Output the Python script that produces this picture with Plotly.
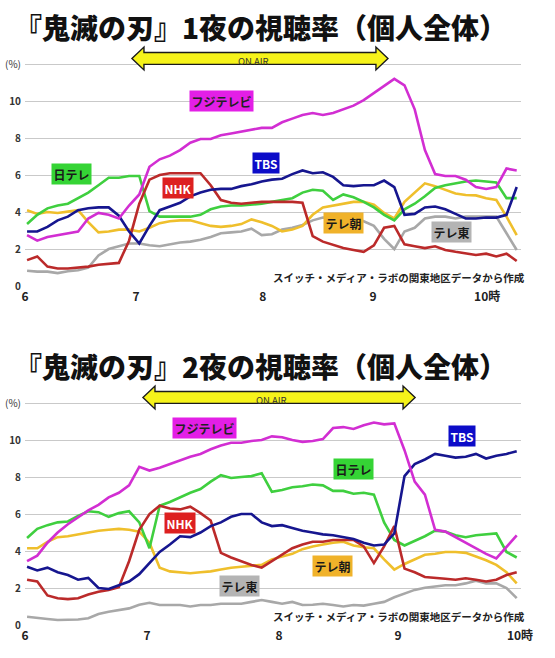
import plotly.graph_objects as go

# time axis: minutes after 18:00, sampled every 5 minutes
minutes = list(range(2, 247, 5))

channels = ["テレ東", "テレ朝", "日テレ", "NHK", "TBS", "フジテレビ"]
line_colors = {"フジテレビ": "#d22ed2", "日テレ": "#3fcf3f", "TBS": "#16168f",
               "NHK": "#bb2a2a", "テレ朝": "#efbf2c", "テレ東": "#a8a8a8"}
box_colors = {"フジテレビ": "#e31fe6", "日テレ": "#35d435", "TBS": "#0c0cc8",
              "NHK": "#dd2020", "テレ朝": "#f0b22a", "テレ東": "#b4b4b4"}
box_text = {"フジテレビ": "#222222", "日テレ": "#1a1a1a", "TBS": "#ffffff",
            "NHK": "#ffffff", "テレ朝": "#1a1a1a", "テレ東": "#1a1a1a"}

# ---- Night 1 ratings (%) ----
fuji1 = [2.8, 2.5, 2.7, 2.8, 2.9, 3.0, 3.7, 4.0, 3.9, 3.7,
         4.4, 5.0, 6.5, 6.9, 7.1, 7.4, 7.8, 8.0, 8.0, 8.2,
         8.3, 8.4, 8.5, 8.6, 8.6, 8.9, 9.1, 9.3, 9.4, 9.3,
         9.4, 9.6, 9.8, 10.1, 10.5, 10.9, 11.25, 10.9, 9.6, 7.4,
         6.1, 6.0, 6.0, 5.8, 5.4, 5.3, 5.4, 6.4, 6.3]
ntv1 = [3.4, 3.9, 4.25, 4.4, 4.5, 4.8, 5.1, 5.5, 5.9, 5.9,
        6.0, 6.0, 4.1, 3.8, 3.8, 3.8, 3.8, 3.9, 4.2, 4.35,
        4.4, 4.4, 4.45, 4.5, 4.6, 4.7, 4.8, 5.1, 5.25, 5.2,
        4.7, 5.0, 4.85, 4.6, 4.3, 3.9, 3.6, 4.2, 4.5, 4.9,
        5.35, 5.5, 5.6, 5.7, 5.75, 5.7, 5.65, 4.8, 4.8]
tbs1 = [3.0, 3.0, 3.25, 3.6, 3.8, 4.15, 4.25, 4.3, 4.3, 3.85,
        3.0, 2.35, 3.3, 4.15, 4.35, 4.55, 4.9, 5.1, 5.25, 5.3,
        5.3, 5.45, 5.55, 5.7, 5.8, 5.85, 6.1, 6.3, 6.15, 6.2,
        5.95, 5.5, 5.45, 5.5, 5.5, 5.75, 5.4, 3.9, 3.95, 4.3,
        4.35, 4.2, 3.95, 3.7, 3.7, 3.75, 3.75, 3.9, 5.4]
nhk1 = [1.45, 1.65, 1.1, 1.0, 1.0, 1.05, 1.1, 1.2, 1.25, 1.3,
        2.5, 4.5, 5.8, 6.05, 6.15, 6.15, 6.15, 6.15, 5.5, 4.7,
        4.55, 4.5, 4.55, 4.6, 4.6, 4.6, 4.6, 4.55, 2.75, 2.45,
        2.27, 2.1, 2.0, 1.9, 2.25, 3.2, 3.3, 2.3, 2.2, 2.1,
        2.2, 2.0, 1.9, 1.8, 1.73, 1.8, 1.65, 1.8, 1.4]
ex1 = [4.15, 3.95, 4.05, 4.0, 4.07, 4.15, 3.5, 2.95, 3.0, 3.1,
       3.1, 3.0, 3.2, 3.45, 3.55, 3.6, 3.6, 3.45, 3.3, 3.25,
       3.3, 3.4, 3.65, 3.5, 3.3, 3.0, 3.1, 3.3, 3.9, 4.3,
       4.4, 4.5, 4.6, 4.6, 4.45, 4.0, 3.7, 4.6, 5.1, 5.6,
       5.45, 5.25, 5.05, 4.97, 4.95, 4.8, 4.7, 3.8, 2.8]
tx1 = [0.88, 0.83, 0.83, 0.75, 0.85, 0.9, 1.05, 1.7, 2.05, 2.2,
       2.35, 2.35, 2.25, 2.2, 2.3, 2.4, 2.45, 2.55, 2.7, 2.9,
       2.95, 3.0, 3.15, 2.8, 2.85, 3.1, 3.2, 3.35, 3.6, 3.75,
       3.75, 3.7, 3.7, 3.55, 3.3, 2.6, 2.05, 3.0, 3.2, 3.7,
       3.8, 3.8, 3.7, 3.8, 3.8, 3.8, 3.8, 2.9, 2.0]

# ---- Night 2 ratings (%) ----
fuji2 = [3.5, 3.8, 4.5, 5.05, 5.5, 5.9, 6.25, 6.55, 6.95, 7.2,
         7.6, 8.6, 8.4, 8.55, 8.75, 8.95, 9.15, 9.3, 9.55, 9.75,
         9.9, 9.9, 10.0, 10.05, 10.25, 10.2, 10.05, 9.95, 10.0, 10.1,
         10.7, 10.75, 10.65, 10.85, 11.0, 10.9, 10.95, 9.5, 7.8, 7.1,
         5.2, 5.1, 4.8, 4.5, 4.2, 3.9, 3.65, 4.3, 4.9]
ntv2 = [4.75, 5.25, 5.45, 5.6, 5.65, 5.95, 6.2, 6.15, 5.9, 6.1,
        6.2, 5.6, 4.2, 6.5, 6.7, 6.95, 7.2, 7.4, 7.8, 8.15,
        8.0, 8.05, 8.1, 8.25, 7.25, 7.35, 7.5, 7.55, 7.65, 7.6,
        7.3, 7.3, 7.15, 7.2, 7.1, 5.6, 4.65, 4.35, 4.6, 4.85,
        5.15, 5.1, 4.9, 4.8, 4.9, 4.95, 5.0, 4.0, 3.7]
tbs2 = [3.2, 3.0, 3.15, 2.9, 2.75, 2.5, 2.6, 2.05, 2.0, 2.2,
        2.4, 2.8, 3.4, 4.0, 4.4, 4.85, 4.8, 5.05, 5.4, 5.6,
        5.9, 6.05, 6.05, 5.6, 5.4, 5.45, 5.3, 5.15, 5.05, 4.95,
        4.9, 4.8, 4.7, 4.5, 4.35, 4.4, 5.0, 8.1, 8.75, 9.0,
        9.3, 9.2, 9.1, 9.15, 9.3, 9.05, 9.2, 9.3, 9.45]
nhk2 = [2.5, 2.4, 1.65, 1.5, 1.45, 1.5, 1.7, 1.85, 1.95, 2.1,
        3.5, 5.2, 6.05, 6.5, 6.35, 6.3, 6.45, 6.1, 5.7, 3.95,
        3.7, 3.5, 3.3, 3.15, 3.5, 3.85, 4.2, 4.4, 4.55, 4.55,
        4.65, 4.65, 4.65, 4.3, 3.4, 4.3, 5.4, 3.1, 2.9, 2.65,
        2.58, 2.55, 2.5, 2.58, 2.5, 2.4, 2.5, 2.75, 2.9]
ex2 = [4.2, 4.2, 4.55, 4.8, 4.85, 4.95, 5.05, 5.15, 5.2, 5.25,
       5.2, 5.1, 4.5, 3.15, 2.95, 2.9, 2.85, 2.9, 2.95, 3.05,
       3.15, 3.2, 3.25, 3.3, 3.6, 3.75, 3.9, 4.15, 4.3, 4.4,
       4.5, 4.55, 4.35, 4.25, 4.2, 3.6, 3.05, 3.35, 3.6, 3.85,
       3.9, 4.0, 4.0, 3.95, 3.75, 3.55, 3.3, 2.9, 2.3]
tx2 = [0.5, 0.42, 0.38, 0.32, 0.32, 0.35, 0.42, 0.65, 0.77, 0.85,
       0.95, 1.15, 1.25, 1.13, 1.13, 1.13, 1.05, 1.13, 1.13, 1.2,
       1.2, 1.2, 1.3, 1.4, 1.3, 1.2, 1.3, 1.13, 1.15, 1.2,
       1.13, 1.05, 1.13, 1.1, 1.2, 1.3, 1.55, 1.75, 1.95, 2.07,
       2.15, 2.2, 2.2, 2.3, 2.45, 2.3, 2.3, 2.05, 1.5]

night1 = {"フジテレビ": fuji1, "日テレ": ntv1, "TBS": tbs1, "NHK": nhk1, "テレ朝": ex1, "テレ東": tx1}
night2 = {"フジテレビ": fuji2, "日テレ": ntv2, "TBS": tbs2, "NHK": nhk2, "テレ朝": ex2, "テレ東": tx2}

titles = ["『鬼滅の刃』1夜の視聴率（個人全体）", "『鬼滅の刃』2夜の視聴率（個人全体）"]
hour_labels = ["6", "7", "8", "9", "10時"]
hour_pos1 = [1.0, 55.4, 117.6, 171.6, 227.5]
hour_pos2 = [1.0, 60.8, 125.5, 183.8, 243.6]
y_ticks = [0, 2, 4, 6, 8, 10, 12]
y_text = ["<b>0</b>", "<b>2</b>", "<b>4</b>", "<b>6</b>", "<b>8</b>", "<b>10</b>", "(%)"]
onair1 = (53.4, 178.9)
onair2 = (58.8, 192.2)
source_note = "スイッチ・メディア・ラボの関東地区データから作成"

FONT = "Noto Sans CJK JP"

fig = go.Figure()
for data, xa, ya in [(night1, "x", "y"), (night2, "x2", "y2")]:
    for ch in channels:
        fig.add_trace(go.Scatter(x=minutes, y=data[ch], mode="lines", name=ch,
                                 line=dict(color=line_colors[ch], width=2.6),
                                 xaxis=xa, yaxis=ya, showlegend=False, hoverinfo="skip"))

xr = [0.99, 244.1]
yr = [-0.05, 13.2]
common_x = dict(range=xr, showgrid=False, zeroline=False, showline=False, ticks="",
                automargin=False, ticklabelstandoff=0,
                tickfont=dict(family=FONT, size=12, color="#222", weight="bold"))
common_y = dict(range=yr, tickvals=y_ticks, ticktext=y_text, showgrid=True,
                gridcolor="#c9c9c9", gridwidth=1, zeroline=False, showline=False, ticks="",
                automargin=False, ticklabelstandoff=3,
                tickfont=dict(family=FONT, size=10, color="#333"))

fig.update_layout(
    width=555, height=658, margin=dict(l=0, r=0, t=0, b=0),
    paper_bgcolor="white", plot_bgcolor="white", showlegend=False,
    font=dict(family=FONT),
    xaxis=dict(domain=[0.04505, 0.93874], anchor="y", tickvals=hour_pos1, ticktext=hour_labels, **common_x),
    yaxis=dict(domain=[0.5625, 0.9350], anchor="x", **common_y),
    xaxis2=dict(domain=[0.04505, 0.93874], anchor="y2", tickvals=hour_pos2, ticktext=hour_labels, **common_x),
    yaxis2=dict(domain=[0.0473, 0.4198], anchor="x2", **common_y),
)

# ON AIR arrows
def arrow_path(x0, x1, yc, head=5.9, hh=0.62, sh=0.32):
    pts = [(x0, yc), (x0 + head, yc + hh), (x0 + head, yc + sh), (x1 - head, yc + sh),
           (x1 - head, yc + hh), (x1, yc), (x1 - head, yc - hh), (x1 - head, yc - sh),
           (x0 + head, yc - sh), (x0 + head, yc - hh)]
    return "M " + " L ".join(f"{px},{py}" for px, py in pts) + " Z"

for (a0, a1), xa, ya, tx in [(onair1, "x", "y", 113), (onair2, "x2", "y2", 122)]:
    fig.add_shape(type="path", path=arrow_path(a0, a1, 12.35), xref=xa, yref=ya,
                  fillcolor="#f6f31a", line=dict(color="#1a1a1a", width=1.4), layer="above")
    fig.add_annotation(x=tx, y=12.22, xref=xa, yref=ya, text="ON AIR", showarrow=False,
                       font=dict(family=FONT, size=9.5, color="#333"))

# titles
for t, yp in zip(titles, [0.959, 0.4438]):
    fig.add_annotation(x=0.47, y=yp, xref="paper", yref="paper", yanchor="middle", text=t,
                       showarrow=False, font=dict(family=FONT, size=28, color="#111", weight=900))

# source notes
for xa, ya in [("x", "y"), ("x2", "y2")]:
    fig.add_annotation(x=0.95, y=0.5, xref="paper", yref=ya, xanchor="right", text=source_note,
                       showarrow=False, font=dict(family=FONT, size=10.5, color="#222", weight="bold"))

# channel label boxes
labels1 = {"フジテレビ": (97.5, 10.05), "日テレ": (24, 6.08), "NHK": (76, 5.35),
           "TBS": (119, 6.68), "テレ朝": (157, 3.43), "テレ東": (210, 2.95)}
labels2 = {"フジテレビ": (89, 10.7), "日テレ": (162, 8.5), "NHK": (77, 5.54),
           "TBS": (215, 10.27), "テレ朝": (151.5, 3.24), "テレ東": (106, 2.14)}
for labs, xa, ya in [(labels1, "x", "y"), (labels2, "x2", "y2")]:
    for ch, (lx, ly) in labs.items():
        fig.add_annotation(x=lx, y=ly, xref=xa, yref=ya, text=ch, showarrow=False,
                           bgcolor=box_colors[ch], borderpad=1.5,
                           font=dict(family=FONT, size=12, color=box_text[ch], weight="bold"))

fig.write_html("out.html", config={"displayModeBar": False},
               post_script="document.body.style.margin='0px';")
